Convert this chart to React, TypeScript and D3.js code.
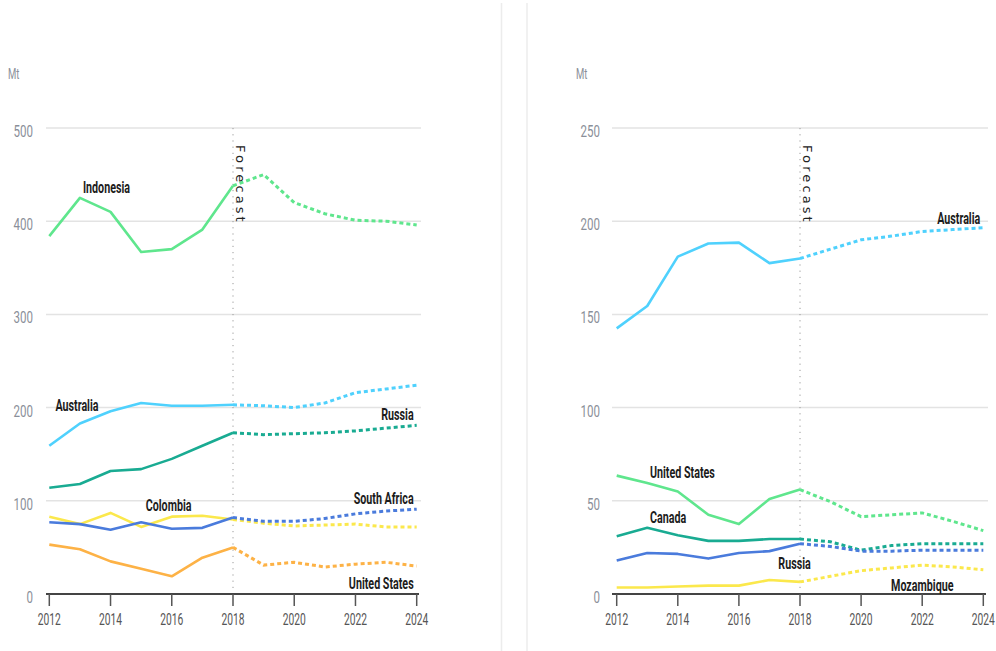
import React, { useEffect, useRef } from 'react';
import * as d3 from 'd3';

// Years shown on both panels (2018 is the last actual, rest forecast)
const years = [2012, 2013, 2014, 2015, 2016, 2017, 2018, 2019, 2020, 2021, 2022, 2023, 2024];
const tickYears = [2012, 2014, 2016, 2018, 2020, 2022, 2024];
const forecastStart = 2018;

// Left panel (Mt)
const indonesia = [384, 425, 410, 367, 370, 391, 438, 450, 420, 408, 401, 400, 396];
const australiaLeft = [159, 183, 196, 205, 202, 202, 203, 202, 200, 205, 216, 220, 224];
const russiaLeft = [114, 118, 132, 134, 145, 159, 173, 171, 172, 173, 175, 178, 181];
const southAfrica = [77, 75, 69, 77, 70, 71, 82, 78, 78, 81, 86, 89, 91];
const colombia = [83, 75, 87, 72, 83, 84, 80, 76, 73, 74, 75, 72, 72];
const usLeft = [53, 48, 35, 27, 19, 39, 50, 31, 34, 29, 32, 34, 30];
const leftTicks = [0, 100, 200, 300, 400, 500];

// Right panel (Mt)
const australiaRight = [142.5, 154.5, 181, 188, 188.5, 177.5, 180, 185, 190, 192, 194.5, 195.5, 196.5];
const usRight = [63.5, 59.5, 55, 42.5, 37.5, 51, 56, 49.5, 41.5, 42.5, 43.5, 39, 34];
const canada = [31, 35.5, 31.5, 28.5, 28.5, 29.5, 29.5, 28, 23.5, 26, 27, 27, 27];
const russiaRight = [18, 22, 21.5, 19, 22, 23, 27, 25.5, 23, 23, 23.5, 23.5, 23.5];
const mozambique = [3.5, 3.5, 4, 4.5, 4.5, 7.5, 6.5, 9.5, 12.5, 14, 15.5, 14.5, 13];
const rightTicks = [0, 50, 100, 150, 200, 250];

const COLORS = {
  green: '#5fe68d',
  cyan: '#4fd1fd',
  teal: '#19ab92',
  blue: '#4a7bdc',
  yellow: '#fbe84c',
  orange: '#fdb246',
};

interface Series {
  name: string;
  values: number[];
  color: string;
  // label anchor in data space
  labelYear: number;
  labelValue: number;
  anchor: 'start' | 'end';
}

const leftSeries: Series[] = [
  { name: 'Indonesia', values: indonesia, color: COLORS.green, labelYear: 2013.1, labelValue: 430, anchor: 'start' },
  { name: 'Australia', values: australiaLeft, color: COLORS.cyan, labelYear: 2012.2, labelValue: 196, anchor: 'start' },
  { name: 'Russia', values: russiaLeft, color: COLORS.teal, labelYear: 2023.9, labelValue: 186.5, anchor: 'end' },
  { name: 'Colombia', values: colombia, color: COLORS.yellow, labelYear: 2015.15, labelValue: 89, anchor: 'start' },
  { name: 'South Africa', values: southAfrica, color: COLORS.blue, labelYear: 2023.9, labelValue: 96.5, anchor: 'end' },
  { name: 'United States', values: usLeft, color: COLORS.orange, labelYear: 2023.9, labelValue: 5.4, anchor: 'end' },
];

const rightSeries: Series[] = [
  { name: 'Australia', values: australiaRight, color: COLORS.cyan, labelYear: 2023.9, labelValue: 198.5, anchor: 'end' },
  { name: 'United States', values: usRight, color: COLORS.green, labelYear: 2013.09, labelValue: 62.2, anchor: 'start' },
  { name: 'Canada', values: canada, color: COLORS.teal, labelYear: 2013.09, labelValue: 38.1, anchor: 'start' },
  { name: 'Russia', values: russiaRight, color: COLORS.blue, labelYear: 2017.29, labelValue: 13.4, anchor: 'start' },
  { name: 'Mozambique', values: mozambique, color: COLORS.yellow, labelYear: 2020.98, labelValue: 1.6, anchor: 'start' },
];

const FONT = '"Liberation Sans Narrow", "Roboto", sans-serif';

export default function App() {
  const svgRef = useRef<SVGSVGElement>(null);

  useEffect(() => {
    if (!svgRef.current) return;
    const svg = d3.select(svgRef.current);
    svg.selectAll('*').remove();

    const width = 996;
    const height = 651;
    const yTop = 128;
    const yBottom = 594;

    svg.attr('width', width).attr('height', height);

    // panel separators
    [501.5, 527].forEach(x => {
      svg.append('line')
        .attr('x1', x).attr('x2', x)
        .attr('y1', 3).attr('y2', height)
        .attr('stroke', '#ececec')
        .attr('stroke-width', 1.5);
    });

    const addText = (
      g: d3.Selection<any, unknown, null, undefined>,
      x: number, y: number, txt: string,
      opts: { size: number; weight?: string; fill: string; anchor?: string; squish?: number }
    ) => {
      g.append('text')
        .attr('transform', `translate(${x},${y}) scale(${opts.squish ?? 0.68},1)`)
        .attr('text-anchor', opts.anchor || 'start')
        .style('font-family', FONT)
        .style('font-size', `${opts.size}px`)
        .style('font-weight', opts.weight || 'normal')
        .attr('fill', opts.fill)
        .text(txt);
    };

    const drawPanel = (
      cfg: { x0: number; x1: number; gx0: number; gx1: number; yMax: number; ticks: number[]; labelX: number; mtX: number },
      series: Series[]
    ) => {
      const g = svg.append('g');
      const x = d3.scaleLinear().domain([2012, 2024]).range([cfg.x0, cfg.x1]);
      const y = d3.scaleLinear().domain([0, cfg.yMax]).range([yBottom, yTop]);

      // unit
      addText(g, cfg.mtX, 79, 'Mt', { size: 14, fill: '#8a8f99' });

      // gridlines + y labels
      cfg.ticks.forEach(t => {
        if (t > 0) {
          g.append('line')
            .attr('x1', cfg.gx0).attr('x2', cfg.gx1)
            .attr('y1', y(t)).attr('y2', y(t))
            .attr('stroke', '#e3e3e3')
            .attr('stroke-width', 1.5);
        }
        addText(g, cfg.labelX, y(t) + 9, String(t), { size: 17, fill: '#8a8f99', anchor: 'end' });
      });

      // forecast marker
      const fx = x(forecastStart);
      g.append('line')
        .attr('x1', fx).attr('x2', fx)
        .attr('y1', yTop).attr('y2', yBottom)
        .attr('stroke', '#9a9a9a')
        .attr('stroke-width', 1)
        .attr('stroke-dasharray', '1.2,5');
      g.append('text')
        .attr('transform', `translate(${fx + 3},${145}) rotate(90)`)
        .style('font-family', '"DejaVu Sans", sans-serif')
        .style('font-size', '13px')
        .style('letter-spacing', '3.1px')
        .attr('fill', '#222')
        .text('Forecast');

      // lines
      const line = d3.line<[number, number]>()
        .x(d => x(d[0]))
        .y(d => y(d[1]));

      series.forEach(s => {
        const pts: [number, number][] = years.map((yr, i) => [yr, s.values[i]]);
        const actual = pts.filter(p => p[0] <= forecastStart);
        const forecast = pts.filter(p => p[0] >= forecastStart);
        g.append('path')
          .attr('d', line(actual))
          .attr('fill', 'none')
          .attr('stroke', s.color)
          .attr('stroke-width', 2.6)
          .attr('stroke-linejoin', 'round');
        g.append('path')
          .attr('d', line(forecast))
          .attr('fill', 'none')
          .attr('stroke', s.color)
          .attr('stroke-width', 3)
          .attr('stroke-dasharray', '4,3');
      });

      // x axis
      g.append('line')
        .attr('x1', cfg.gx0).attr('x2', cfg.gx1 - 2)
        .attr('y1', yBottom).attr('y2', yBottom)
        .attr('stroke', '#444')
        .attr('stroke-width', 2);
      tickYears.forEach(t => {
        g.append('line')
          .attr('x1', x(t)).attr('x2', x(t))
          .attr('y1', yBottom).attr('y2', yBottom + 12)
          .attr('stroke', '#555')
          .attr('stroke-width', 1.5);
        addText(g, x(t), 625, String(t), { size: 16, fill: '#555', anchor: 'middle', squish: 0.64 });
      });

      // series labels
      series.forEach(s => {
        addText(g, x(s.labelYear), y(s.labelValue), s.name, {
          size: 17, weight: 'bold', fill: '#1c1c1c', anchor: s.anchor, squish: 0.63,
        });
      });
    };

    drawPanel({ x0: 49.3, x1: 416.7, gx0: 46, gx1: 421, yMax: 500, ticks: leftTicks, labelX: 33, mtX: 8 }, leftSeries);
    drawPanel({ x0: 616.7, x1: 983.3, gx0: 612, gx1: 988, yMax: 250, ticks: rightTicks, labelX: 600, mtX: 576 }, rightSeries);
  }, []);

  return (
    <div style={{ position: 'absolute', left: 0, top: 0, width: 996, height: 651, background: '#fff' }}>
      <svg ref={svgRef} style={{ display: 'block' }}></svg>
    </div>
  );
}
